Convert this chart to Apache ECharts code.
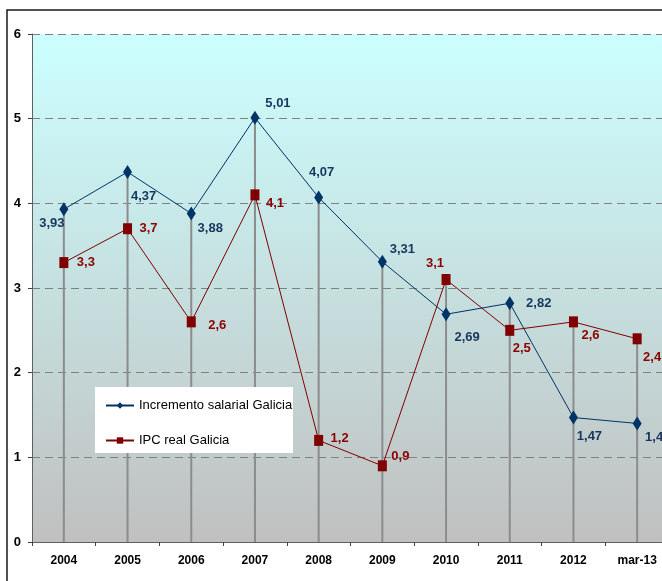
<!DOCTYPE html>
<html>
<head>
<meta charset="utf-8">
<script src="https://cdn.jsdelivr.net/npm/echarts@6/dist/echarts.min.js"></script>
<style>
html,body{margin:0;padding:0;background:#fff;}
#chart{width:662px;height:581px;}
</style>
</head>
<body>
<div id="chart"></div>
<script>
// ---- data ----
const categories = ['2004','2005','2006','2007','2008','2009','2010','2011','2012','mar-13'];
const salarioGalicia = [3.93, 4.37, 3.88, 5.01, 4.07, 3.31, 2.69, 2.82, 1.47, 1.4];
const ipcGalicia = [3.3, 3.7, 2.6, 4.1, 1.2, 0.9, 3.1, 2.5, 2.6, 2.4];
const seriesNames = ['Incremento salarial Galicia', 'IPC real Galicia'];
const yMin = 0, yMax = 6, yStep = 1;

// ---- styling (label offsets in px) ----
const blueOffsets = [[-12,14],[16,24],[19,15],[23,-14],[3,-25],[20,-12],[21,23],[29,0],[16,19],[17,14]];
const redOffsets  = [[22,0],[21,0],[26,4],[20,9],[21,-2],[18,-9],[-11,-16],[12,18],[17,14],[15,19]];

const FONT = 'Liberation Sans';
const NARROW = '"Liberation Sans Narrow", "Liberation Sans", Arial';
const fmt = v => String(v).replace('.', ',');

function withLabels(values, offsets, color) {
  return values.map((v, i) => ({
    value: v,
    label: {
      show: true, position: 'inside', offset: offsets[i],
      align: 'center', verticalAlign: 'middle',
      formatter: p => fmt(p.value),
      color: color, fontWeight: 'bold', fontSize: 13, fontFamily: FONT
    }
  }));
}
const dropHeights = salarioGalicia.map((v, i) => Math.max(v, ipcGalicia[i]));

const chart = echarts.init(document.getElementById('chart'), null, {renderer: 'canvas'});
chart.setOption({
  animation: false,
  backgroundColor: '#ffffff',
  graphic: [
    { type: 'rect', z: 100, shape: {x: 7, y: 10, width: 700, height: 600},
      style: {fill: 'none', stroke: '#1a1a1a', lineWidth: 1.5}, silent: true },
    { type: 'rect', z: 10, shape: {x: 95, y: 387, width: 198, height: 66},
      style: {fill: '#ffffff', stroke: 'none'}, silent: true }
  ],
  grid: {
    left: 32, top: 34, width: 637, height: 508,
    outerBoundsMode: 'none',
    containLabel: false,
    show: true, borderWidth: 0,
    backgroundColor: {
      type: 'linear', x: 0, y: 0, x2: 0, y2: 1,
      colorStops: [{offset: 0, color: '#ccffff'}, {offset: 1, color: '#c0c0c0'}]
    }
  },
  legend: {
    data: seriesNames,
    orient: 'vertical',
    left: 105, top: 399,
    itemWidth: 28, itemHeight: 8, itemGap: 22,
    padding: 0, z: 20,
    textStyle: {fontSize: 13, color: '#000', fontFamily: NARROW},
    selectedMode: false
  },
  xAxis: {
    type: 'category',
    data: categories,
    boundaryGap: true,
    axisLine: {lineStyle: {color: '#606060', width: 1}},
    axisTick: {show: true, interval: 0, length: 4, lineStyle: {color: '#404040'}},
    axisLabel: {margin: 13, fontSize: 12, fontWeight: 'bold', color: '#000', fontFamily: NARROW, interval: 0},
    splitLine: {show: false}
  },
  yAxis: {
    type: 'value',
    min: yMin, max: yMax, interval: yStep,
    axisLine: {show: true, lineStyle: {color: '#606060', width: 1}},
    axisTick: {show: true, length: 4, lineStyle: {color: '#404040'}},
    axisLabel: {margin: 11, fontSize: 13, fontWeight: 'bold', color: '#000', fontFamily: FONT},
    splitLine: {show: true, lineStyle: {color: '#808080', type: [8, 5], width: 1}}
  },
  series: [
    {
      name: 'drop', type: 'bar', data: dropHeights, barWidth: 2, silent: true,
      itemStyle: {color: '#8c8c8c'}, z: 1, legendHoverLink: false
    },
    {
      name: seriesNames[0], type: 'line', data: withLabels(salarioGalicia, blueOffsets, '#17365d'),
      symbol: 'diamond', symbolSize: [9, 14], z: 3,
      lineStyle: {color: '#003366', width: 1},
      itemStyle: {color: '#003366'}
    },
    {
      name: seriesNames[1], type: 'line', data: withLabels(ipcGalicia, redOffsets, '#8b0000'),
      symbol: 'rect', symbolSize: [9, 11], z: 3,
      lineStyle: {color: '#800000', width: 1},
      itemStyle: {color: '#800000'}
    }
  ]
});
</script>
</body>
</html>
